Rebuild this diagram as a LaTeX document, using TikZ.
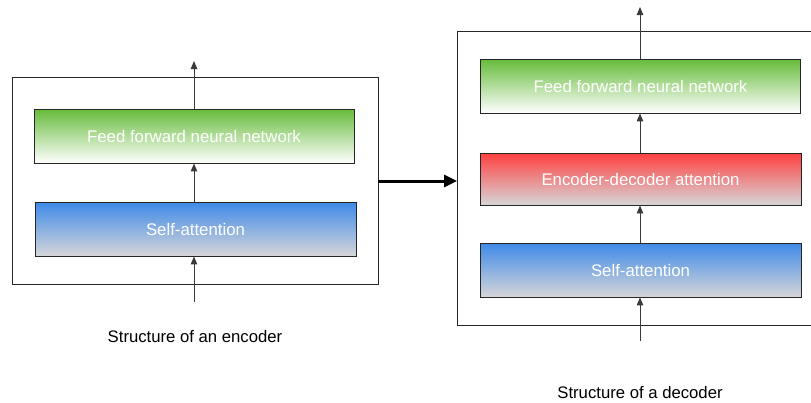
\documentclass[tikz,border=0pt]{standalone}
\usepackage{fontspec}
\setmainfont{Liberation Sans}
\usetikzlibrary{arrows.meta}
\definecolor{gtop}{HTML}{66BB3A}
\definecolor{btop}{HTML}{3E8AE8}
\definecolor{rtop}{HTML}{FF4040}
\definecolor{gbot}{HTML}{D6D6D8}
\definecolor{arr}{HTML}{3A3A3A}
\tikzset{
  layer/.style={draw=black!85, line width=0.9pt, minimum width=#1, inner sep=0pt,
    text=white, font=\fontsize{16.8}{18}\selectfont},
  green layer/.style={layer=320pt, minimum height=54pt, top color=gtop, bottom color=white},
  blue layer/.style={layer=321pt, minimum height=54pt, top color=btop, bottom color=gbot},
  red layer/.style={layer=321pt, minimum height=52pt, top color=rtop, bottom color=gbot},
  frame/.style={draw=black!85, line width=0.9pt, inner sep=0pt},
  flow/.style={draw=arr, line width=1pt, -{Triangle[length=8pt,width=6.5pt]}},
  caption/.style={font=\fontsize{16.7}{18}\selectfont, text=black},
}
\begin{document}
\begin{tikzpicture}[x=1pt,y=-1pt]
\useasboundingbox (0,0) rectangle (811,402);
% encoder
\node[frame, minimum width=366pt, minimum height=207pt] (encbox) at (195,180.5) {};
\node[green layer] (encffn) at (194,136) {Feed forward neural network};
\node[blue layer] (encsa) at (195.5,229) {Self-attention};
\coordinate (encin) at (194,302);
\coordinate (encout) at (194,61);
\draw[flow] (encin) -- (encsa.south -| encin);
\draw[flow] (encsa.north -| encin) -- (encffn.south -| encin);
\draw[flow] (encffn.north -| encin) -- (encout);
\node[caption] (enccap) at (195,337) {Structure of an encoder};
% decoder
\node[frame, minimum width=360pt, minimum height=294pt] (decbox) at (637.5,178) {};
\node[green layer=321pt] (decffn) at (640.5,86) {Feed forward neural network};
\node[red layer] (decatt) at (640.5,179) {Encoder-decoder attention};
\node[blue layer] (decsa) at (640.5,270) {Self-attention};
\coordinate (decin) at (640,341);
\coordinate (decout) at (640,7);
\draw[flow] (decin) -- (decsa.south -| decin);
\draw[flow] (decsa.north -| decin) -- (decatt.south -| decin);
\draw[flow] (decatt.north -| decin) -- (decffn.south -| decin);
\draw[flow] (decffn.north -| decin) -- (decout);
\node[caption] (deccap) at (640,393) {Structure of a decoder};
% connection
\draw[line width=3pt, -{Triangle[length=13pt,width=12pt]}] (encbox.east |- 0,181) -- (decbox.west |- 0,181);
\end{tikzpicture}
\end{document}
